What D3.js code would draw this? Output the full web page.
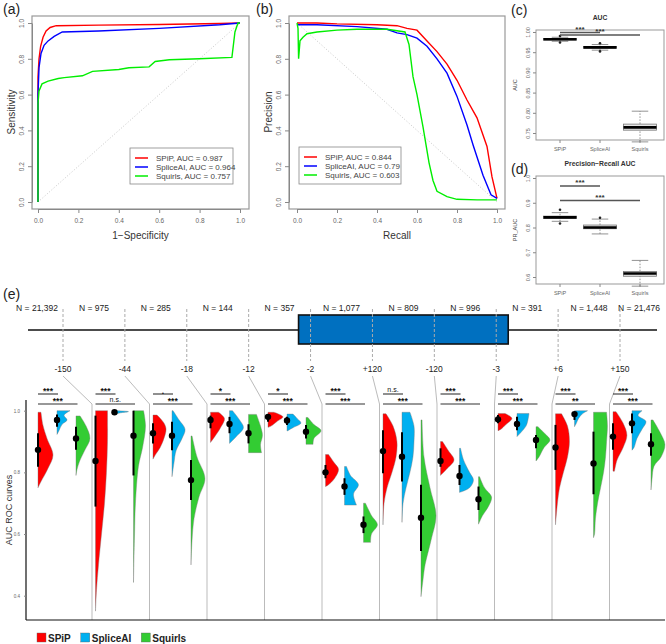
<!DOCTYPE html>
<html>
<head>
<meta charset="utf-8">
<script src="https://cdn.jsdelivr.net/npm/d3@7"></script>
<style>
  body { margin: 0; background: #fff; }
  svg { display: block; font-family: "Liberation Sans", Arial, sans-serif; }
</style>
</head>
<body>
<div id="fig"></div>
<script>
const methods = ["SPiP", "SpliceAI", "Squirls"];

// (a) ROC curves, [1-specificity, sensitivity]
const rocSPiP = [[0,0],[0,0.7],[0.005,0.8],[0.013,0.87],[0.025,0.92],[0.04,0.955],[0.06,0.975],[0.09,0.985],[0.3,0.988],[0.6,0.992],[0.9,0.997],[1,1]];
const rocSpliceAI = [[0,0],[0,0.6],[0.005,0.75],[0.015,0.83],[0.03,0.875],[0.05,0.9],[0.08,0.925],[0.12,0.95],[0.3,0.955],[0.6,0.97],[0.9,0.99],[1,1]];
const rocSquirls = [[0,0],[0,0.55],[0.005,0.62],[0.02,0.66],[0.05,0.675],[0.1,0.69],[0.13,0.695],[0.22,0.705],[0.27,0.73],[0.4,0.74],[0.45,0.75],[0.55,0.755],[0.58,0.785],[0.65,0.795],[0.8,0.8],[0.96,0.808],[0.975,0.95],[0.99,1],[1,1]];
const rocAUC = ["0.987", "0.964", "0.757"];

// (b) precision-recall curves, [recall, precision]
const prSPiP = [[0,1],[0.1,1],[0.2,0.995],[0.4,0.99],[0.5,0.985],[0.55,0.97],[0.6,0.96],[0.65,0.9],[0.7,0.84],[0.75,0.77],[0.8,0.68],[0.85,0.57],[0.9,0.47],[0.95,0.31],[0.975,0.14],[1,0.02]];
const prSpliceAI = [[0,0.99],[0.1,0.99],[0.3,0.98],[0.45,0.965],[0.5,0.945],[0.55,0.935],[0.6,0.915],[0.65,0.87],[0.7,0.8],[0.75,0.72],[0.8,0.59],[0.85,0.43],[0.88,0.32],[0.93,0.15],[0.97,0.04],[1,0.02]];
const prSquirls = [[0,1],[0.005,0.97],[0.008,0.8],[0.015,0.9],[0.03,0.92],[0.05,0.94],[0.1,0.95],[0.2,0.96],[0.3,0.965],[0.45,0.965],[0.54,0.95],[0.56,0.88],[0.58,0.7],[0.6,0.6],[0.63,0.42],[0.66,0.22],[0.68,0.12],[0.7,0.06],[0.75,0.03],[0.8,0.015],[0.9,0.012],[1,0.012]];
const prAUC = ["0.844", "0.79", "0.603"];

// (c) / (d) boxplots: [min, q1, median, q3, max]
const aucStats = [[0.977,0.980,0.982,0.984,0.987],[0.955,0.960,0.962,0.964,0.969],[0.728,0.757,0.764,0.772,0.804]];
const aucOutliers = [[0.974,0.990],[0.952,0.972],[]];
const aucTicks = [0.75, 0.80, 0.85, 0.90, 0.95, 1.00];
const prAucStats = [[0.825,0.836,0.841,0.846,0.860],[0.774,0.795,0.800,0.810,0.834],[0.563,0.603,0.614,0.622,0.667]];
const prAucOutliers = [[0.816,0.872],[0.839],[]];
const prAucTicks = [0.6, 0.7, 0.8, 0.9, 1.0];

// (e) regions
const regionN = ["21,392","975","285","144","357","1,077","809","996","391","1,448","21,476"];
const boundaries = ["-150","-44","-18","-12","-2","+120","-120","-3","+6","+150"];
const sigRedBlue = ["***","***",".","*","*","***","n.s.","***","***","***","***"];
const sigRedGreen = ["***","n.s.","***","***","***","***","***","***","***","**","***"];

// per region: median, [low, high] of bar, density profile [value, relative width]
const spipMed = [0.873,0.837,0.927,0.970,0.980,0.800,0.869,0.837,0.972,0.881,0.916];
const spliceMed = [0.970,0.995,0.919,0.957,0.968,0.754,0.851,0.788,0.957,0.989,0.959];
const squirlsMed = [0.910,0.919,0.775,0.927,0.932,0.630,0.653,0.713,0.905,0.829,0.891];
const spipBar = [[0.818,0.927],[0.689,0.984],[0.894,0.959],[0.943,0.984],[0.964,0.988],[0.781,0.824],[0.797,0.937],[0.818,0.878],[0.959,0.986],[0.808,0.954],[0.873,0.959]];
const spliceBar = [[0.948,0.988],[0.99,1.0],[0.872,0.964],[0.927,0.98],[0.954,0.98],[0.727,0.781],[0.77,0.93],[0.759,0.824],[0.937,0.98],[0.97,0.995],[0.927,0.991]];
const squirlsBar = [[0.873,0.948],[0.79,1.0],[0.71,0.84],[0.894,0.956],[0.91,0.954],[0.603,0.657],[0.545,0.76],[0.678,0.754],[0.878,0.921],[0.729,0.932],[0.854,0.927]];
const spipDens = [
  [[0.995,0.2],[0.953,0.33],[0.91,0.6],[0.856,1],[0.813,0.67],[0.77,0.2],[0.75,0]],
  [[1,0.8],[0.9,0.8],[0.8,0.73],[0.7,0.6],[0.6,0.4],[0.5,0.2],[0.42,0.07],[0.35,0]],
  [[0.986,0.27],[0.96,0.73],[0.94,0.87],[0.91,0.73],[0.88,0.47],[0.86,0.2],[0.843,0]],
  [[0.995,0.53],[0.975,0.93],[0.945,0.67],[0.915,0.27],[0.897,0]],
  [[0.995,0.4],[0.98,1],[0.965,0.6],[0.95,0.2],[0.946,0]],
  [[0.858,0.2],[0.83,0.6],[0.81,0.87],[0.78,0.6],[0.76,0.2],[0.754,0]],
  [[0.99,0.2],[0.95,0.67],[0.9,0.93],[0.85,0.87],[0.8,0.6],[0.75,0.27],[0.7,0.07],[0.63,0]],
  [[0.9,0.13],[0.87,0.53],[0.84,0.9],[0.81,0.4],[0.79,0]],
  [[0.991,0.47],[0.975,0.93],[0.955,0.53],[0.94,0.2],[0.935,0]],
  [[0.99,0.4],[0.95,0.8],[0.9,0.93],[0.85,0.8],[0.8,0.53],[0.75,0.27],[0.7,0.13],[0.63,0]],
  [[0.997,0.2],[0.96,0.67],[0.92,0.93],[0.88,0.67],[0.84,0.27],[0.804,0.1]]
];
const spliceDens = [
  [[1,0.87],[0.985,0.47],[0.97,0.67],[0.955,0.33],[0.935,0.13],[0.923,0]],
  [[1,0.2],[0.997,0.93],[0.993,0.4],[0.988,0]],
  [[1,0.07],[0.97,0.47],[0.94,0.87],[0.91,0.67],[0.87,0.27],[0.83,0.13],[0.786,0]],
  [[1,0.2],[0.97,0.67],[0.945,0.93],[0.92,0.53],[0.9,0.13],[0.894,0]],
  [[0.989,0.4],[0.975,0.67],[0.96,0.93],[0.945,0.4],[0.934,0]],
  [[0.819,0.13],[0.79,0.4],[0.76,0.93],[0.73,0.6],[0.694,0.8]],
  [[0.995,0.53],[0.95,0.8],[0.9,0.8],[0.85,0.73],[0.8,0.53],[0.75,0.27],[0.7,0.07],[0.638,0]],
  [[0.878,0.07],[0.84,0.27],[0.8,0.67],[0.775,0.93],[0.75,0.67],[0.735,0]],
  [[0.991,0.8],[0.97,0.73],[0.95,0.6],[0.93,0.27],[0.916,0]],
  [[1,0.87],[0.99,0.53],[0.975,0.27],[0.96,0.13],[0.948,0]],
  [[1,0.67],[0.985,0.4],[0.965,0.93],[0.94,0.67],[0.91,0.33],[0.88,0.13],[0.872,0]]
];
const squirlsDens = [
  [[0.983,0.27],[0.95,0.67],[0.91,0.93],[0.873,0.6],[0.84,0.27],[0.81,0.07],[0.79,0]],
  [[1,0.67],[0.95,0.8],[0.88,0.6],[0.82,0.33],[0.7,0.13],[0.6,0.07],[0.443,0]],
  [[0.918,0.07],[0.85,0.4],[0.78,0.93],[0.72,0.53],[0.65,0.2],[0.58,0.07],[0.5,0]],
  [[0.988,0.53],[0.95,0.8],[0.92,0.93],[0.89,0.8],[0.864,0.87]],
  [[0.978,0.13],[0.955,0.53],[0.935,1],[0.91,0.53],[0.891,0.47]],
  [[0.70,0.13],[0.66,0.53],[0.63,0.93],[0.6,0.53],[0.573,0.47]],
  [[0.97,0.07],[0.85,0.2],[0.75,0.6],[0.66,1],[0.58,0.67],[0.5,0.27],[0.45,0.13],[0.397,0]],
  [[0.786,0.07],[0.75,0.4],[0.72,0.87],[0.69,0.67],[0.66,0.27],[0.632,0]],
  [[0.948,0.13],[0.925,0.6],[0.905,0.93],[0.88,0.53],[0.85,0.2],[0.837,0]],
  [[0.995,0.87],[0.95,0.93],[0.9,0.87],[0.85,0.8],[0.8,0.67],[0.75,0.47],[0.7,0.27],[0.65,0.13],[0.6,0.07],[0.588,0]],
  [[0.97,0.13],[0.93,0.6],[0.89,0.93],[0.85,0.67],[0.82,0.2],[0.78,0.07],[0.743,0]]
];

const lineColors = ["#ff0000", "#0000ff", "#00ee00"];
const fillColors = ["#ff0000", "#00b0f0", "#33cc33"];

const svg = d3.select("#fig").append("svg").attr("width", 666).attr("height", 644);
svg.append("rect").attr("width", 666).attr("height", 644).attr("fill", "#fff");

function label(x, y, t) {
  svg.append("text").attr("x", x).attr("y", y).attr("font-size", 14).attr("fill", "#222").text(t);
}

function styleAxis(g, size) {
  g.selectAll("path").attr("stroke", "#888");
  g.selectAll("line").attr("stroke", "#888");
  g.selectAll("text").attr("fill", "#666").attr("font-size", size).attr("font-family", "Liberation Sans, Arial, sans-serif");
}

function rotateYTicks(g, off) {
  g.selectAll("text").attr("transform", "rotate(-90)").attr("x", 0).attr("y", -off).attr("dy", 0).style("text-anchor", "middle");
}

// ---------- (a) and (b) ----------
function curvePanel(box, xr, series, aucs, xlab, ylab, diag, legBox) {
  const x = d3.scaleLinear().domain([0, 1]).range(xr);
  const y = d3.scaleLinear().domain([0, 1]).range([202, 23]);
  svg.append("line").attr("x1", x(0)).attr("y1", y(diag[0])).attr("x2", x(1)).attr("y2", y(diag[1]))
    .attr("stroke", "#c8c8c8").attr("stroke-dasharray", "1,2");
  const line = d3.line().x(d => x(d[0])).y(d => y(d[1]));
  series.forEach((s, i) => {
    svg.append("path").datum(s).attr("d", line).attr("fill", "none")
      .attr("stroke", lineColors[i]).attr("stroke-width", 1.4);
  });
  svg.append("rect").attr("x", box[0]).attr("y", 16).attr("width", box[1] - box[0]).attr("height", 193)
    .attr("fill", "none").attr("stroke", "#999").attr("stroke-width", 1.2);
  const ticks = [0, 0.2, 0.4, 0.6, 0.8, 1];
  const gx = svg.append("g").attr("transform", "translate(0,209)")
    .call(d3.axisBottom(x).tickValues(ticks).tickFormat(d3.format(".1f")).tickSize(4).tickSizeOuter(0).tickPadding(5));
  styleAxis(gx, 6.5);
  const gy = svg.append("g").attr("transform", `translate(${box[0]},0)`)
    .call(d3.axisLeft(y).tickValues(ticks).tickFormat(d3.format(".1f")).tickSize(4).tickSizeOuter(0));
  styleAxis(gy, 6.5);
  rotateYTicks(gy, 8);
  svg.append("text").attr("x", (box[0] + box[1]) / 2).attr("y", 239).attr("text-anchor", "middle")
    .attr("font-size", 10).attr("fill", "#333").text(xlab);
  svg.append("text").attr("transform", `translate(${box[0] - 17},112) rotate(-90)`).attr("text-anchor", "middle")
    .attr("font-size", 10).attr("fill", "#333").text(ylab);
  svg.append("rect").attr("x", legBox[0]).attr("y", legBox[1]).attr("width", legBox[2]).attr("height", legBox[3])
    .attr("fill", "#fff").attr("stroke", "#888").attr("stroke-width", 0.8);
  methods.forEach((m, i) => {
    const ly = legBox[1] + 10 + i * 9;
    svg.append("line").attr("x1", legBox[0] + 5).attr("x2", legBox[0] + 18).attr("y1", ly).attr("y2", ly)
      .attr("stroke", lineColors[i]).attr("stroke-width", 1.5);
    svg.append("text").attr("x", legBox[0] + 26).attr("y", ly + 3).attr("font-size", 8).attr("fill", "#444")
      .text(`${m}, AUC = ${aucs[i]}`);
  });
}

curvePanel([32, 249], [38, 240], [rocSPiP, rocSpliceAI, rocSquirls], rocAUC, "1\u2212Specificity", "Sensitivity", [0, 1], [130, 148, 103, 36]);
curvePanel([289, 505], [297, 497], [prSPiP, prSpliceAI, prSquirls], prAUC, "Recall", "Precision", [1, 0], [299, 147, 102, 37]);
label(3, 14, "(a)");
label(256, 14, "(b)");

// ---------- (c) and (d) ----------
function boxPanel(top, bottom, domain, ticks, fmt, stats, outliers, title, ylab, sigY) {
  const x = d3.scaleBand().domain(methods).range([540, 660]).paddingInner(0.175).paddingOuter(0.0875);
  const y = d3.scaleLinear().domain(domain).range([bottom - 7, top + 2]);
  svg.append("rect").attr("x", 536).attr("y", top).attr("width", 128).attr("height", bottom - top)
    .attr("fill", "none").attr("stroke", "#999").attr("stroke-width", 1);
  methods.forEach((m, i) => {
    const s = stats[i];
    const cx = x(m) + x.bandwidth() / 2;
    const bw = x.bandwidth();
    svg.append("line").attr("x1", cx).attr("x2", cx).attr("y1", y(s[0])).attr("y2", y(s[4]))
      .attr("stroke", "#777").attr("stroke-dasharray", "1.5,1.5").attr("stroke-width", 0.8);
    [s[0], s[4]].forEach(v => svg.append("line").attr("x1", cx - bw / 4).attr("x2", cx + bw / 4)
      .attr("y1", y(v)).attr("y2", y(v)).attr("stroke", "#777").attr("stroke-width", 0.8));
    svg.append("rect").attr("x", cx - bw / 2).attr("y", y(s[3])).attr("width", bw)
      .attr("height", Math.max(1, y(s[1]) - y(s[3]))).attr("fill", "#e6e6e6").attr("stroke", "#777").attr("stroke-width", 0.8);
    svg.append("line").attr("x1", cx - bw / 2).attr("x2", cx + bw / 2).attr("y1", y(s[2])).attr("y2", y(s[2]))
      .attr("stroke", "#000").attr("stroke-width", 2.6);
    outliers[i].forEach(v => svg.append("circle").attr("cx", cx).attr("cy", y(v)).attr("r", 1.3).attr("fill", "#222"));
  });
  const gx = svg.append("g").attr("transform", `translate(0,${bottom})`)
    .call(d3.axisBottom(x).tickSize(3).tickSizeOuter(0).tickPadding(4));
  styleAxis(gx, 5.5);
  gx.select("path").remove();
  const gy = svg.append("g").attr("transform", "translate(536,0)")
    .call(d3.axisLeft(y).tickValues(ticks).tickFormat(d3.format(fmt)).tickSize(3).tickSizeOuter(0));
  styleAxis(gy, 5.5);
  gy.select("path").remove();
  rotateYTicks(gy, 6);
  svg.append("text").attr("x", 600).attr("y", top - 10).attr("text-anchor", "middle")
    .attr("font-size", 6.8).attr("font-weight", "bold").attr("fill", "#333").text(title);
  svg.append("text").attr("transform", `translate(517,${(top + bottom) / 2}) rotate(-90)`).attr("text-anchor", "middle")
    .attr("font-size", 5.5).attr("fill", "#444").text(ylab);
  // significance bars
  [[1, sigY[0]], [2, sigY[1]]].forEach(([j, yy]) => {
    const x1 = x(methods[0]) + x.bandwidth() / 2, x2 = x(methods[j]) + x.bandwidth() / 2;
    svg.append("line").attr("x1", x1).attr("x2", x2).attr("y1", yy).attr("y2", yy)
      .attr("stroke", "#555").attr("stroke-width", 1.6);
    svg.append("text").attr("x", (x1 + x2) / 2).attr("y", yy - 1).attr("text-anchor", "middle")
      .attr("font-size", 8).attr("font-weight", "bold").attr("fill", "#333").text("***");
  });
}

boxPanel(30, 140, [0.75, 1.0], aucTicks, ".2f", aucStats, aucOutliers, "AUC", "AUC", [32.5, 35]);
boxPanel(176, 284, [0.6, 1.0], prAucTicks, ".1f", prAucStats, prAucOutliers, "Precision\u2212Recall AUC", "PR_AUC", [186, 200.5]);
label(511, 15, "(c)");
label(511, 174, "(d)");

// ---------- (e) ----------
label(3, 299, "(e)");
const bx = d3.scaleLinear().domain([0, 9]).range([63, 620]);
const sepX = d3.scaleBand().domain(d3.range(11)).range([34.5, 667]);
const offX = d3.scalePoint().domain(methods).range([3.5, 41.5]);
const vy = d3.scaleLinear().domain([0.4, 1]).range([595.7, 410.7]);
const vw = d3.scaleLinear().domain([0, 1]).range([0, 15]);

// gene diagram
svg.append("line").attr("x1", 28).attr("x2", 657).attr("y1", 330).attr("y2", 330).attr("stroke", "#111").attr("stroke-width", 1.6);
svg.append("rect").attr("x", bx(4) - 12).attr("y", 315).attr("width", bx(7) - bx(4) + 24).attr("height", 29)
  .attr("fill", "#0070c0").attr("stroke", "#111").attr("stroke-width", 1.6);
boundaries.forEach((b, i) => {
  svg.append("line").attr("x1", bx(i)).attr("x2", bx(i)).attr("y1", 309).attr("y2", 361)
    .attr("stroke", "#aaa").attr("stroke-dasharray", "3,2");
  svg.append("text").attr("x", bx(i)).attr("y", 372).attr("text-anchor", "middle").attr("font-size", 8.5)
    .attr("fill", "#222").text(b);
  const sx = sepX(i + 1);
  svg.append("line").attr("x1", bx(i)).attr("y1", 376).attr("x2", sx).attr("y2", 404).attr("stroke", "#aaa").attr("stroke-width", 0.8);
  svg.append("line").attr("x1", sx).attr("y1", 404).attr("x2", sx).attr("y2", 620).attr("stroke", "#aaa").attr("stroke-width", 0.8);
});
regionN.forEach((n, i) => {
  let cx = i === 0 ? 37 : i === 10 ? 639 : (bx(i - 1) + bx(i)) / 2;
  svg.append("text").attr("x", cx).attr("y", 311).attr("text-anchor", "middle").attr("font-size", 8.5)
    .attr("fill", "#222").text("N = " + n);
});

// axes
svg.append("line").attr("x1", 26).attr("x2", 26).attr("y1", 400).attr("y2", 620).attr("stroke", "#111").attr("stroke-width", 1.2);
svg.append("line").attr("x1", 26).attr("x2", 665).attr("y1", 620).attr("y2", 620).attr("stroke", "#111").attr("stroke-width", 1.2);
const gv = svg.append("g").attr("transform", "translate(26,0)")
  .call(d3.axisLeft(vy).tickValues([0.4, 0.6, 0.8, 1.0]).tickFormat(d3.format(".1f")).tickSize(2).tickPadding(4));
gv.select("path").remove();
styleAxis(gv, 4.5);
svg.append("text").attr("transform", "translate(12,510) rotate(-90)").attr("text-anchor", "middle")
  .attr("font-size", 9).attr("fill", "#333").text("AUC ROC curves");

const area = d3.area().curve(d3.curveCatmullRom).y(d => vy(d[0])).x0(0).x1(d => vw(d[1]));
const meds = [spipMed, spliceMed, squirlsMed];
const bars = [spipBar, spliceBar, squirlsBar];
const dens = [spipDens, spliceDens, squirlsDens];

regionN.forEach((n, r) => {
  const x0 = sepX(r);
  methods.forEach((m, k) => {
    const cx = x0 + offX(m);
    svg.append("path").datum(dens[k][r]).attr("transform", `translate(${cx},0)`).attr("d", area)
      .attr("fill", fillColors[k]).attr("stroke", "#777").attr("stroke-width", 0.4);
    svg.append("line").attr("x1", cx).attr("x2", cx).attr("y1", vy(bars[k][r][0])).attr("y2", vy(bars[k][r][1]))
      .attr("stroke", "#000").attr("stroke-width", 2);
    svg.append("circle").attr("cx", cx).attr("cy", vy(meds[k][r])).attr("r", 3.2).attr("fill", "#000");
  });
  const xr = x0 + offX("SPiP"), xb = x0 + offX("SpliceAI") + 1, xg = x0 + offX("Squirls") + 1.5;
  svg.append("line").attr("x1", xr).attr("x2", xb).attr("y1", 394).attr("y2", 394).attr("stroke", "#333").attr("stroke-width", 1.1);
  svg.append("line").attr("x1", xr).attr("x2", xg).attr("y1", 404).attr("y2", 404).attr("stroke", "#333").attr("stroke-width", 1.1);
  const t1 = sigRedBlue[r], t2 = sigRedGreen[r];
  svg.append("text").attr("x", (xr + xb) / 2).attr("y", t1 === "n.s." ? 392 : 394).attr("text-anchor", "middle")
    .attr("font-size", t1 === "n.s." ? 7 : 8.5).attr("font-weight", t1 === "n.s." ? "normal" : "bold").attr("fill", "#111").text(t1);
  svg.append("text").attr("x", (xr + xg) / 2).attr("y", t2 === "n.s." ? 402 : 404).attr("text-anchor", "middle")
    .attr("font-size", t2 === "n.s." ? 7 : 8.5).attr("font-weight", t2 === "n.s." ? "normal" : "bold").attr("fill", "#111").text(t2);
});

// legend: squares placed one after another, spaced by measured text width
let legX = 37;
methods.forEach((m, i) => {
  svg.append("rect").attr("x", legX).attr("y", 633).attr("width", 9).attr("height", 9)
    .attr("fill", fillColors[i]).attr("stroke", "#666").attr("stroke-width", 0.4);
  const t = svg.append("text").attr("x", legX + 11).attr("y", 641.5).attr("font-size", 10).attr("font-weight", "bold")
    .attr("fill", "#222").text(m);
  legX += 11 + t.node().getComputedTextLength() + 10;
});
</script>
</body>
</html>
